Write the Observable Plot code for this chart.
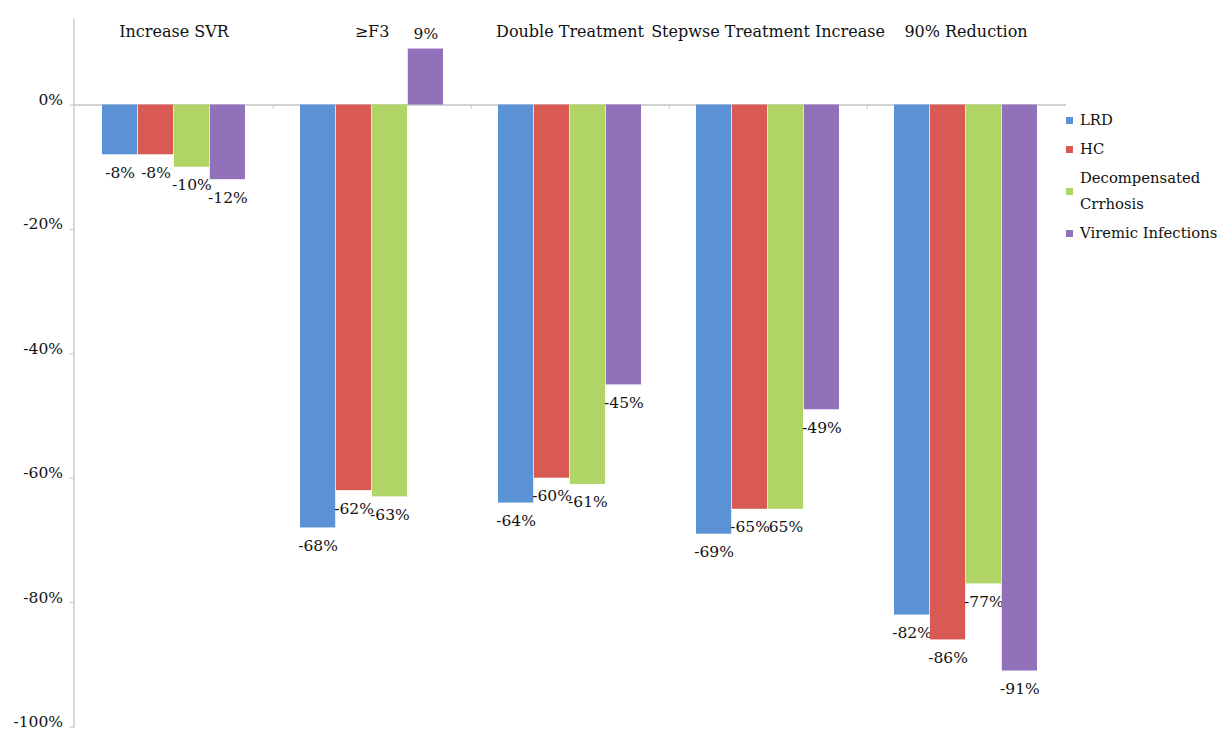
<!DOCTYPE html>
<html>
<head>
<meta charset="utf-8">
<script src="https://cdn.jsdelivr.net/npm/d3@7"></script>
<script src="https://cdn.jsdelivr.net/npm/@observablehq/plot@0.6"></script>
<style>
  html, body { margin: 0; padding: 0; background: #fff; }
  #wrap { position: relative; width: 1217px; height: 729px; font-family: "DejaVu Serif", serif; }
  #legend { position: absolute; left: 1066px; top: 107px; font-size: 14.8px; color: #111; }
  .item { display: flex; align-items: center; margin-bottom: 3px; line-height: 26px; }
  .sw { width: 7px; height: 7px; margin-right: 7px; flex: none; }
  .lt { width: 145px; }
</style>
</head>
<body>
<div id="wrap"><div id="legend"></div></div>
<script>
// ---- data ----
const categories = ["Increase SVR", "≥F3", "Double Treatment", "Stepwse Treatment Increase", "90% Reduction"];
const series = ["LRD", "HC", "Decompensated Crrhosis", "Viremic Infections"];
const colors = ["#5B92D6", "#D95A55", "#B0D465", "#9271BB"];
const lrd      = [-8, -68, -64, -69, -82];
const hc       = [-8, -62, -60, -65, -86];
const decomp   = [-10, -63, -61, -65, -77];
const viremic  = [-12, 9, -45, -49, -91];
const lrdLabels     = ["-8%", "-68%", "-64%", "-69%", "-82%"];
const hcLabels      = ["-8%", "-62%", "-60%", "-65%", "-86%"];
const decompLabels  = ["-10%", "-63%", "-61%", "65%", "-77%"];
const viremicLabels = ["-12%", "9%", "-45%", "-49%", "-91%"];
const yTicks = [0, -20, -40, -60, -80, -100];

const values = [lrd, hc, decomp, viremic];
const labels = [lrdLabels, hcLabels, decompLabels, viremicLabels];
const rows = [];
series.forEach((s, k) => categories.forEach((c, i) => rows.push({category: c, series: s, k, value: values[k][i], label: labels[k][i]})));

// ---- layout ----
const W = 1217, H = 729, mL = 73.5, mR = 151, mT = 19, mB = 2.5;
const padIn = 0.276, padOut = 0.138;
const step = (W - mL - mR) / (categories.length - padIn + 2 * padOut);
const band = step * (1 - padIn);
const q = band / series.length;
const font = "'DejaVu Serif', serif";
const grey = "#C4C4C4";

const marks = [
  Plot.ruleY([0], {stroke: grey, strokeWidth: 1.3}),
  Plot.ruleX(categories.slice(0, -1), {x: d => d, dx: step / 2, y1: 0, y2: -0.7, stroke: grey}),
  Plot.frame({anchor: "left", stroke: grey, strokeWidth: 1.3}),
  Plot.axisY({ticks: yTicks, tickFormat: () => "", tickSize: 4, stroke: grey, label: null}),
  Plot.axisY({ticks: yTicks, tickFormat: d => d + "%", tickSize: 0, tickPadding: 11, dy: -5, fill: "#111", fontSize: 15.5, label: null}),
  Plot.text(categories, {x: d => d, frameAnchor: "top", dy: 6, text: d => d, fontSize: 16, fill: "#111"})
];
series.forEach((s, k) => {
  marks.push(Plot.barY(rows, {filter: d => d.k === k, x: "category", y: "value", fill: colors[k],
    insetLeft: k * q, insetRight: (series.length - 1 - k) * q}));
  const dx = (k - (series.length - 1) / 2) * q;
  marks.push(Plot.text(rows, {filter: d => d.k === k && d.value < 0, x: "category", y: "value", text: "label",
    dx, dy: 18, fontSize: 15.5, fill: "#111"}));
  marks.push(Plot.text(rows, {filter: d => d.k === k && d.value >= 0, x: "category", y: "value", text: "label",
    dx, dy: -15, fontSize: 15.5, fill: "#111"}));
});

const chart = Plot.plot({
  width: W, height: H,
  marginLeft: mL, marginRight: mR, marginTop: mT, marginBottom: mB,
  style: {fontFamily: font, background: "#fff", overflow: "visible"},
  x: {type: "band", domain: categories, paddingInner: padIn, paddingOuter: padOut, axis: null},
  y: {domain: [-100, 13.75]},
  marks
});
document.getElementById("wrap").prepend(chart);

const legend = document.getElementById("legend");
series.forEach((s, k) => {
  const it = document.createElement("div");
  it.className = "item";
  const sw = document.createElement("span");
  sw.className = "sw"; sw.style.background = colors[k];
  const t = document.createElement("span");
  t.className = "lt"; t.textContent = s;
  it.append(sw, t);
  legend.append(it);
});
</script>
</body>
</html>
